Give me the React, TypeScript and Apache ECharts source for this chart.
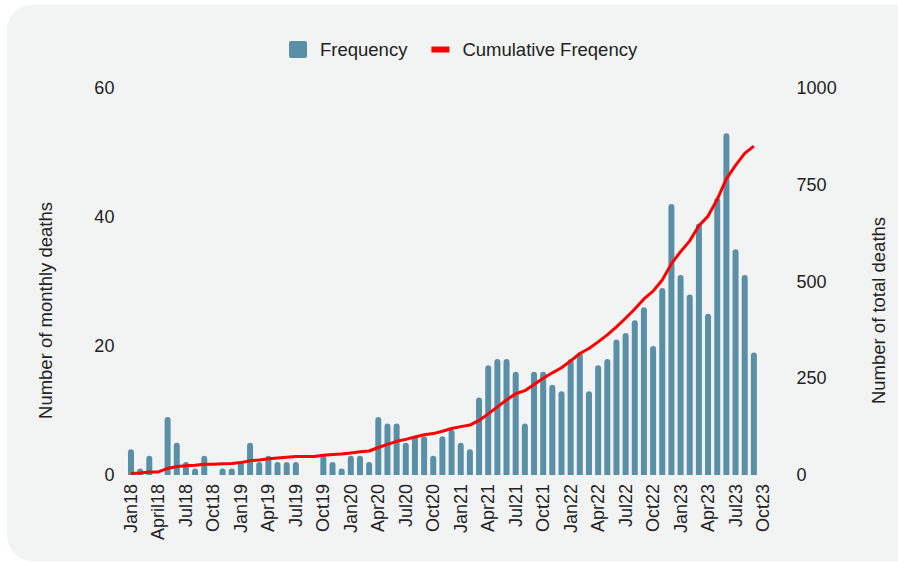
import React, { useEffect, useRef } from "react";
import * as echarts from "echarts";

const years = ["18", "19", "20", "21", "22", "23"];
const monthNames = ["Jan", "Feb", "Mar", "Apr", "May", "Jun", "Jul", "Aug", "Sep", "Oct", "Nov", "Dec"];

const categories: string[] = [];
years.forEach((y) => {
  monthNames.forEach((m, i) => {
    if (y === "23" && i > 9) return;
    categories.push((y === "18" && m === "Apr" ? "April" : m) + y);
  });
});

const frequency: (number | null)[] = [
  4, 1, 3, 0, 9, 5, 2, 1, 3, 0, 1, 1,
  2, 5, 2, 3, 2, 2, 2, 0, 0, 3, 2, 1,
  3, 3, 2, 9, 8, 8, 5, 6, 6, 3, 6, 7,
  5, 4, 12, 17, 18, 18, 16, 8, 16, 16, 14, 13,
  18, 19, 13, 17, 18, 21, 22, 24, 26, 20, 29, 42,
  31, 28, 39, 25, 43, 53, 35, 31, 19, null,
];

const cumulative: (number | null)[] = [];
{
  let s = 0;
  frequency.forEach((v) => {
    if (v === null) {
      cumulative.push(null);
    } else {
      s += v;
      cumulative.push(s);
    }
  });
}

const leftTicks = { min: 0, max: 60, interval: 20 };
const rightTicks = { min: 0, max: 1000, interval: 250 };

const FONT = "'Liberation Sans', Arial, sans-serif";
const TEXT = "#222";
const FS = 18.5;

export default function App() {
  const ref = useRef<HTMLDivElement>(null);
  useEffect(() => {
    if (!ref.current) return;
    const chart = echarts.init(ref.current, null, { renderer: "svg" });
    chart.setOption({
      animation: false,
      textStyle: { fontFamily: FONT },
      graphic: [
        {
          type: "rect",
          z: -10,
          silent: true,
          shape: { x: 7, y: 5, width: 940, height: 556, r: 25 },
          style: { fill: "#f2f4f3" },
        },
        {
          type: "text",
          x: 45,
          y: 310.5,
          rotation: Math.PI / 2,
          style: {
            text: "Number of monthly deaths",
            fontSize: FS,
            fontFamily: FONT,
            fill: TEXT,
            align: "center",
            verticalAlign: "middle",
          },
        },
        {
          type: "text",
          x: 878,
          y: 310.5,
          rotation: Math.PI / 2,
          style: {
            text: "Number of total deaths",
            fontSize: FS,
            fontFamily: FONT,
            fill: TEXT,
            align: "center",
            verticalAlign: "middle",
          },
        },
      ],
      legend: {
        left: 284,
        top: 35,
        itemWidth: 18,
        itemHeight: 17,
        itemGap: 24,
        textStyle: { fontSize: FS, color: TEXT, fontFamily: FONT, padding: [0, 0, 0, 8] },
        data: [
          { name: "Frequency", icon: "path://M2,0H16Q18,0 18,2V15Q18,17 16,17H2Q0,17 0,15V2Q0,0 2,0Z" },
          {
            name: "Cumulative Freqency",
            icon: "path://M0,0L0.01,0L0.01,0.01Z M0,5.5H18V11.5H0Z M17.99,16.99L18,17L17.99,17Z",
          },
        ],
      },
      grid: { left: 126.4, right: 130.4, top: 88, bottom: 89, containLabel: false },
      xAxis: {
        type: "category",
        data: categories,
        boundaryGap: true,
        axisLine: { show: false },
        axisTick: { show: false },
        axisLabel: {
          interval: 2,
          rotate: 90,
          margin: 9,
          fontSize: 18,
          color: TEXT,
          fontFamily: FONT,
        },
      },
      yAxis: [
        {
          type: "value",
          ...leftTicks,
          position: "left",
          axisLine: { show: false },
          axisTick: { show: false },
          splitLine: { show: false },
          axisLabel: { fontSize: 18, color: TEXT, margin: 12, fontFamily: FONT },
        },
        {
          type: "value",
          ...rightTicks,
          position: "right",
          axisLine: { show: false },
          axisTick: { show: false },
          splitLine: { show: false },
          axisLabel: {
            fontSize: 18,
            color: TEXT,
            margin: 29,
            fontFamily: FONT,
            formatter: (v: number) => String(v),
          },
        },
      ],
      series: [
        {
          name: "Frequency",
          type: "bar",
          data: frequency,
          yAxisIndex: 0,
          barWidth: 6,
          itemStyle: { color: "#5a8fa8", borderRadius: [3, 3, 0, 0] },
        },
        {
          name: "Cumulative Freqency",
          type: "line",
          data: cumulative,
          yAxisIndex: 1,
          showSymbol: false,
          symbol: "none",
          lineStyle: { color: "#ff0000", width: 3 },
          itemStyle: { color: "#ff0000" },
          z: 3,
        },
      ],
    });
    return () => chart.dispose();
  }, []);
  return (
    <div
      ref={ref}
      style={{ position: "absolute", left: 0, top: 0, width: 898, height: 564, background: "#ffffff" }}
    />
  );
}
